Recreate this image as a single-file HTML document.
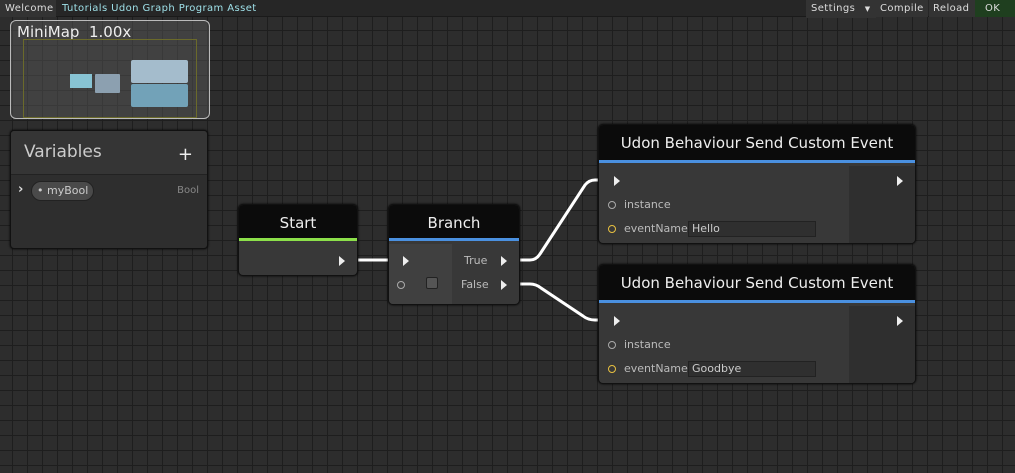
<!DOCTYPE html>
<html><head><style>
*{margin:0;padding:0;box-sizing:border-box}
body{width:1015px;height:473px;overflow:hidden;font-family:"DejaVu Sans","Liberation Sans",sans-serif;background:#2a2a2a;position:relative;color:#ddd}
.grid{position:absolute;left:0;top:17px;width:1015px;height:456px;
background-color:#2d2d2d;
background-image:linear-gradient(#1e1e1e 1px,transparent 1px),linear-gradient(90deg,#1e1e1e 1px,transparent 1px);
background-size:15px 15px;background-position:-3px -2px}
.bar{position:absolute;left:0;top:0;width:1015px;height:17px;background:#262626;font-size:10px;line-height:17px;border-bottom:1px solid #1a1a1a}
.bar span{position:absolute;top:0;letter-spacing:.4px}
.node{position:absolute;background:#383838;border:1px solid #111;border-radius:5px;overflow:hidden;box-shadow:0 0 2px #000}
.hd{background:#0b0b0b;color:#eee;text-align:center;font-size:15px;height:36px;line-height:36px}
.g{border-bottom:3px solid #8ce04a}.b{border-bottom:3px solid #4a90e0}
.tri{position:absolute;width:0;height:0;border-top:5px solid transparent;border-bottom:5px solid transparent;border-left:6px solid #eee}
.circ{position:absolute;width:8px;height:8px;border-radius:50%;border:1px solid #aaa}
.lbl{position:absolute;font-size:11px;color:#bbb}
</style></head><body>
<div class="grid"></div>
<div class="bar">
<span style="left:0;width:56px;background:#333;padding-left:5px;color:#ddd">Welcome</span>
<span style="left:62px;color:#9ee0e8">Tutorials Udon Graph Program Asset</span>
<span style="left:806px;width:70px;background:#333;padding-left:5px;color:#ddd">Settings <span style="position:relative;left:6px;font-size:7px">▼</span></span>
<span style="left:876px;width:52px;background:#333;padding-left:4px;color:#ddd">Compile</span>
<span style="left:929px;width:46px;background:#333;padding-left:4px;color:#ddd">Reload</span>
<span style="left:975px;width:40px;background:#1f3f1f;padding-left:10px;color:#ddd">OK</span>
</div>
<!-- minimap -->
<div style="position:absolute;left:10px;top:20px;width:200px;height:99px;border:1px solid #bbb;border-radius:6px;background:rgba(90,90,90,.45)"></div>
<div style="position:absolute;left:17px;top:23px;font-size:15px;color:#eee">MiniMap&nbsp; 1.00x</div>
<div style="position:absolute;left:23px;top:39px;width:174px;height:79px;border:1px solid #6b6a2a"></div>
<div style="position:absolute;left:70px;top:74px;width:22px;height:14px;background:#88c4d4"></div>
<div style="position:absolute;left:95px;top:74px;width:25px;height:19px;background:#8ca0b0;border-radius:1px"></div>
<div style="position:absolute;left:131px;top:60px;width:57px;height:23px;background:#a4bccc;border-radius:2px"></div>
<div style="position:absolute;left:131px;top:84px;width:57px;height:23px;background:#72a2b8;border-radius:2px"></div>
<!-- variables -->
<div class="node" style="left:10px;top:130px;width:198px;height:119px;background:#2e2e2e;border-radius:4px">
<div style="height:44px;background:#353535;border-bottom:1px solid #222;font-size:17px;color:#ccc;padding:11px 0 0 13px">Variables<span style="position:absolute;right:14px;top:13px;font-size:18px;color:#eee">+</span></div>
<div style="position:absolute;left:7px;top:51px;font-size:13px;color:#ddd;font-weight:bold">›</div>
<div style="position:absolute;left:20px;top:50px;width:63px;height:20px;border-radius:10px;background:#4a4a4a;border:1px solid #222;font-size:11px;color:#ccc;line-height:18px;padding-left:5px">• myBool</div>
<div style="position:absolute;right:8px;top:54px;font-size:10px;color:#888">Bool</div>
</div>
<!-- wires -->
<svg style="position:absolute;left:0;top:0" width="1015" height="473">
<g stroke="#fff" stroke-width="3" fill="none">
<path d="M344 260 H402"/>
<path d="M512 260 H530 Q536 260 540 254 L585 185 Q589 180 595 180 H610"/>
<path d="M512 284 H530 Q536 284 541 288 L583 316 Q588 320 595 320 H610"/>
</g></svg>
<!-- start -->
<div class="node" style="left:238px;top:204px;width:120px;height:72px">
<div class="hd g">Start</div>
<div class="tri" style="left:100px;top:51px"></div>
</div>
<!-- branch -->
<div class="node" style="left:388px;top:204px;width:132px;height:101px">
<div class="hd b">Branch</div>
<div style="position:absolute;left:0;top:39px;width:63px;height:62px;background:#404040"></div>
<div class="tri" style="left:14px;top:51px"></div>
<div class="circ" style="left:8px;top:76px"></div>
<div style="position:absolute;left:37px;top:72px;width:12px;height:12px;background:#555;border:1px solid #222;border-radius:2px"></div>
<div class="lbl" style="left:75px;top:49px">True</div>
<div class="lbl" style="left:72px;top:73px">False</div>
<div class="tri" style="left:112px;top:51px"></div>
<div class="tri" style="left:112px;top:75px"></div>
</div>
<!-- UB1 -->
<div class="node" style="left:598px;top:124px;width:318px;height:120px">
<div class="hd b" style="height:38px;line-height:36px">Udon Behaviour Send Custom Event</div>
<div style="position:absolute;left:250px;top:41px;width:68px;height:80px;background:#2f2f2f"></div>
<div class="tri" style="left:15px;top:51px"></div>
<div class="tri" style="left:298px;top:51px"></div>
<div class="circ" style="left:9px;top:76px"></div>
<div class="lbl" style="left:25px;top:73px">instance</div>
<div class="circ" style="left:9px;top:100px;border-color:#e8c040"></div>
<div class="lbl" style="left:25px;top:97px">eventName</div>
<div style="position:absolute;left:89px;top:96px;width:128px;height:16px;background:#2f2f2f;border:1px solid #222;font-size:11px;color:#ccc;padding:0 3px">Hello</div>
</div>
<!-- UB2 -->
<div class="node" style="left:598px;top:264px;width:318px;height:120px">
<div class="hd b" style="height:38px;line-height:36px">Udon Behaviour Send Custom Event</div>
<div style="position:absolute;left:250px;top:41px;width:68px;height:80px;background:#2f2f2f"></div>
<div class="tri" style="left:15px;top:51px"></div>
<div class="tri" style="left:298px;top:51px"></div>
<div class="circ" style="left:9px;top:76px"></div>
<div class="lbl" style="left:25px;top:73px">instance</div>
<div class="circ" style="left:9px;top:100px;border-color:#e8c040"></div>
<div class="lbl" style="left:25px;top:97px">eventName</div>
<div style="position:absolute;left:89px;top:96px;width:128px;height:16px;background:#2f2f2f;border:1px solid #222;font-size:11px;color:#ccc;padding:0 3px">Goodbye</div>
</div>
</body></html>
